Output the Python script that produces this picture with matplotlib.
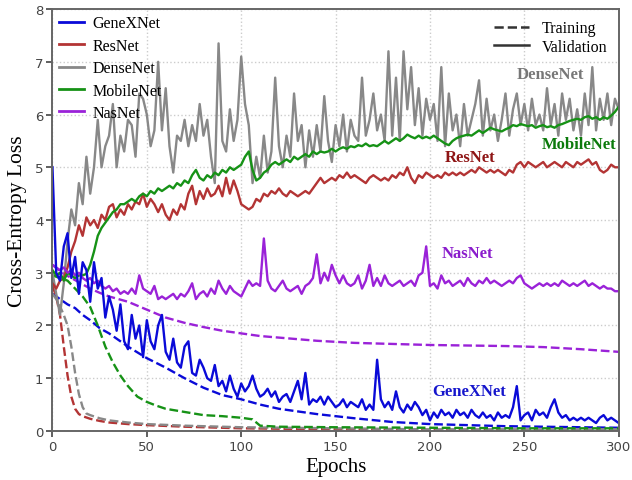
import numpy as np
import matplotlib
matplotlib.use("Agg")
import matplotlib.pyplot as plt
from matplotlib.lines import Line2D

# validation curves, one value every 2 epochs (0..300)
epochs = np.arange(0, 301, 2)

densenet_val = [
    3.0, 2.6, 2.2, 2.8, 3.6, 4.2, 3.9, 4.7, 4.3, 5.2,
    4.5, 5.0, 5.9, 5.0, 5.4, 5.6, 6.2, 5.0, 5.6, 5.3,
    5.9, 5.8, 5.2, 6.4, 6.3, 6.0, 5.4, 5.7, 7.0, 5.7,
    6.5, 5.4, 4.9, 5.6, 5.5, 5.9, 5.4, 5.8, 5.5, 6.2,
    5.6, 5.9, 5.2, 4.7, 7.35, 5.5, 5.3, 6.1, 5.5, 5.9,
    7.1, 6.2, 5.8, 4.7, 5.2, 4.8, 5.6, 4.9, 5.3, 6.7,
    5.4, 5.0, 5.6, 5.2, 6.4, 5.5, 5.8, 5.0, 5.7, 5.2,
    5.8, 5.3, 6.35, 5.5, 5.1, 5.8, 5.4, 6.0, 5.3, 5.9,
    5.6, 5.5, 6.7, 5.6, 5.9, 6.4, 5.7, 6.0, 5.5, 7.2,
    5.6, 6.7, 5.5, 7.2, 6.1, 6.9, 5.8, 6.5, 5.6, 6.3,
    5.9, 6.2, 5.5, 6.9, 5.4, 6.4, 5.7, 6.0, 5.4, 6.2,
    5.6, 5.9, 6.2, 6.65, 5.6, 6.3, 5.7, 6.0, 5.5, 5.9,
    6.4, 5.6, 6.1, 6.4, 5.8, 6.2, 5.7, 6.3, 5.8, 6.0,
    5.7, 6.5, 5.8, 6.2, 5.6, 6.4, 5.9, 6.3, 5.7, 6.1,
    5.6, 6.4, 5.8, 6.9, 5.7, 6.3, 5.9, 6.4, 5.8, 6.3,
    6.1,
]

mobilenet_val = [
    3.05, 2.95, 3.0, 2.85, 3.0, 2.95, 2.9, 2.95, 2.95, 2.98,
    3.15, 3.4, 3.7, 3.85, 3.95, 4.05, 4.15, 4.2, 4.3, 4.3,
    4.35, 4.4, 4.35, 4.45, 4.5, 4.45, 4.55, 4.5, 4.6, 4.55,
    4.6, 4.65, 4.6, 4.7, 4.65, 4.75, 4.7, 4.85, 4.95, 4.8,
    4.75, 4.85, 4.8, 4.9, 4.85, 4.95, 4.9, 5.0, 4.95, 5.0,
    5.05, 5.2, 5.3, 4.95, 4.75, 4.8, 4.9, 4.95, 5.05, 5.1,
    5.05, 5.1, 5.15, 5.1, 5.2, 5.15, 5.2, 5.25, 5.2, 5.3,
    5.25, 5.3, 5.28, 5.3, 5.35, 5.3, 5.35, 5.38, 5.35, 5.4,
    5.38, 5.42, 5.4, 5.45, 5.4, 5.42, 5.4, 5.45, 5.5, 5.45,
    5.5, 5.55, 5.5, 5.55, 5.62, 5.58, 5.55, 5.6, 5.55, 5.58,
    5.55, 5.6, 5.55, 5.5, 5.45, 5.42, 5.5, 5.55, 5.58, 5.6,
    5.62, 5.6, 5.65, 5.7, 5.65, 5.7, 5.75, 5.72, 5.7, 5.68,
    5.72, 5.75, 5.8, 5.78, 5.82, 5.8, 5.78, 5.8, 5.75, 5.78,
    5.8, 5.76, 5.78, 5.75, 5.8, 5.82, 5.85, 5.88, 5.9, 5.92,
    5.9, 5.95, 5.97, 5.92, 5.95, 5.9, 5.95, 5.92, 5.98, 6.05,
    6.15,
]

resnet_val = [
    2.8, 2.7, 2.85, 2.9, 3.1, 3.4, 3.6, 3.9, 3.7, 4.05,
    3.9, 4.0, 3.85, 4.1, 4.0, 4.25, 4.3, 4.05, 4.2, 4.1,
    4.3, 4.2, 4.35, 4.3, 4.5, 4.25, 4.4, 4.3, 4.15, 4.3,
    4.1, 4.0, 4.2, 4.1, 4.3, 4.2, 4.5, 4.65, 4.3, 4.55,
    4.4, 4.6, 4.45, 4.5, 4.65, 4.45, 4.8, 4.5, 4.75, 4.55,
    4.3, 4.25, 4.2, 4.25, 4.4, 4.35, 4.5, 4.45, 4.55, 4.5,
    4.6, 4.5, 4.45, 4.55, 4.5, 4.45, 4.5, 4.55, 4.5, 4.6,
    4.7, 4.8, 4.7, 4.75, 4.8, 4.75, 4.85, 4.8, 4.9, 4.8,
    4.85, 4.8, 4.75, 4.7, 4.8, 4.85, 4.8, 4.75, 4.8, 4.75,
    4.85, 4.8, 4.9, 4.85, 5.0, 4.8, 4.7, 4.85, 4.8, 4.9,
    4.85, 4.8, 4.85, 4.8, 4.9, 4.85, 4.9, 4.85, 4.9, 4.85,
    4.9, 4.95, 4.9, 5.0, 4.95, 4.9, 4.95, 4.9, 4.95, 4.9,
    4.85, 4.95, 4.9, 5.05, 5.1, 5.0, 5.1, 5.05, 5.0, 5.05,
    5.1, 5.0, 5.05, 5.1, 5.05, 5.0, 5.1, 5.05, 5.0, 5.1,
    5.05, 5.1, 5.15, 5.05, 5.1, 4.95, 4.9, 4.95, 5.05, 5.0,
    5.0,
]

nasnet_val = [
    3.15, 3.1, 3.05, 3.1, 3.0, 3.05, 2.95, 3.0, 2.9, 2.85,
    2.9, 2.8, 2.85, 2.75, 2.7, 2.75, 2.65, 2.7, 2.6, 2.65,
    2.6, 2.7, 2.6, 2.95, 2.7, 2.65, 2.6, 2.75, 2.5, 2.55,
    2.5, 2.55, 2.6, 2.5, 2.6, 2.55, 2.65, 2.8, 2.5, 2.6,
    2.65, 2.55, 2.7, 2.6, 2.85, 2.7, 2.6, 2.75, 2.65, 2.6,
    2.55, 2.7, 2.85, 2.75, 2.8, 2.75, 3.65, 2.85, 2.7, 2.65,
    2.75, 2.85, 2.7, 2.65, 2.7, 2.75, 2.6, 2.75, 2.8, 2.9,
    3.35, 2.8, 3.0, 2.85, 3.15, 2.95, 2.8, 2.95, 2.8, 2.75,
    2.8, 2.95, 2.7, 2.85, 3.15, 2.75, 2.9, 2.75, 2.95, 2.8,
    2.75, 2.8, 2.85, 2.75, 2.8, 2.85, 2.75, 2.95, 3.0, 3.5,
    2.75, 2.8, 2.7, 2.95, 2.8, 2.85, 2.75, 2.8, 2.85, 2.75,
    2.9, 2.8, 2.75, 2.85, 2.8, 2.9, 2.8, 2.85, 2.8, 2.75,
    2.8, 2.85, 2.8, 2.9, 2.95, 2.8, 2.75, 2.7, 2.75, 2.8,
    2.75, 2.8, 2.75, 2.8, 2.75, 2.85, 2.8, 2.75, 2.8, 2.75,
    2.8, 2.85, 2.75, 2.8, 2.75, 2.7, 2.75, 2.7, 2.7, 2.65,
    2.65,
]

genexnet_val = [
    5.0, 3.0, 2.85, 3.5, 3.75, 2.9, 3.3, 2.6, 3.2, 3.05,
    2.45, 3.2, 2.7, 2.9, 2.15, 2.55, 2.3, 1.9, 2.4, 1.7,
    1.55, 2.2, 1.75, 2.0, 1.4, 2.1, 1.7, 1.55, 2.0, 2.2,
    1.5, 1.35, 1.75, 1.3, 1.2, 1.6, 1.7, 1.1, 1.05, 1.35,
    1.2, 1.0, 0.95, 1.25, 0.85, 0.95, 0.75, 1.05, 0.8, 0.65,
    0.9, 0.75, 0.85, 1.05, 0.8, 0.65, 0.7, 0.8, 0.65, 0.75,
    0.55, 0.65, 0.7, 0.55, 0.75, 0.95, 0.6, 1.1, 0.5, 0.6,
    0.55, 0.65, 0.5, 0.65, 0.55, 0.45, 0.5, 0.6, 0.45, 0.55,
    0.5, 0.45, 0.6, 0.4, 0.5, 0.4, 1.35, 0.6, 0.45, 0.55,
    0.4, 0.75, 0.45, 0.35, 0.5, 0.4, 0.55, 0.45, 0.3, 0.4,
    0.2, 0.35, 0.25, 0.4, 0.3, 0.35, 0.25, 0.4, 0.3, 0.35,
    0.25, 0.4, 0.3, 0.25, 0.35, 0.25, 0.3, 0.2, 0.35, 0.25,
    0.3, 0.25, 0.45, 0.85, 0.2, 0.3, 0.35, 0.2, 0.4, 0.3,
    0.35, 0.25, 0.45, 0.6, 0.35, 0.25, 0.3, 0.2, 0.25, 0.2,
    0.25, 0.2, 0.25, 0.2, 0.15, 0.25, 0.3, 0.2, 0.25, 0.2,
    0.15,
]

# training curves (smooth), read at a few epochs
nasnet_tr_x = [0, 5, 10, 15, 20, 25, 30, 40, 50, 60, 70, 80, 90, 100, 110, 120,
               140, 160, 180, 200, 220, 240, 260, 280, 300]
nasnet_tr = [3.15, 3.0, 2.9, 2.8, 2.7, 2.62, 2.55, 2.45, 2.3, 2.15, 2.05, 1.97,
             1.9, 1.85, 1.8, 1.77, 1.71, 1.67, 1.65, 1.63, 1.62, 1.61, 1.59, 1.55, 1.5]

genexnet_tr_x = [0, 4, 8, 12, 16, 20, 25, 30, 40, 50, 60, 70, 80, 90, 100, 110,
                 120, 140, 160, 180, 200, 220, 240, 260, 280, 300]
genexnet_tr = [2.6, 2.5, 2.4, 2.33, 2.2, 2.1, 1.95, 1.85, 1.6, 1.38, 1.2, 1.0,
               0.82, 0.68, 0.6, 0.5, 0.42, 0.32, 0.24, 0.17, 0.13, 0.11, 0.09,
               0.08, 0.07, 0.06]

mobilenet_tr_x = [0, 4, 8, 12, 16, 20, 24, 28, 32, 36, 40, 45, 50, 55, 60, 70, 80,
                  90, 100, 106, 110, 120, 150, 200, 250, 300]
mobilenet_tr = [2.95, 2.9, 2.85, 2.7, 2.55, 2.35, 2.0, 1.6, 1.3, 1.05, 0.85, 0.65,
                0.55, 0.48, 0.42, 0.36, 0.3, 0.28, 0.25, 0.22, 0.1, 0.08, 0.07,
                0.06, 0.05, 0.05]

resnet_tr_x = [0, 2, 4, 6, 8, 10, 12, 14, 16, 20, 25, 30, 40, 50, 70, 100, 150, 200, 300]
resnet_tr = [2.75, 2.55, 2.2, 1.6, 1.05, 0.65, 0.42, 0.32, 0.28, 0.23, 0.19, 0.16,
             0.13, 0.11, 0.08, 0.05, 0.03, 0.02, 0.02]

densenet_tr_x = [0, 3, 6, 8, 10, 12, 14, 16, 18, 20, 25, 30, 40, 50, 70, 100, 150, 200, 300]
densenet_tr = [2.6, 2.45, 2.2, 2.0, 1.6, 1.1, 0.7, 0.45, 0.33, 0.3, 0.24, 0.2,
               0.16, 0.13, 0.1, 0.07, 0.05, 0.03, 0.03]

names = ["GeneXNet", "ResNet", "DenseNet", "MobileNet", "NasNet"]
colors = ["#0a0ad8", "#b33434", "#888888", "#169216", "#9a22d8"]
text_colors = ["#1515cc", "#8e1414", "#777777", "#0b7a0b", "#8a1ccc"]

serif = ["Liberation Serif", "DejaVu Serif"]

fig = plt.figure(figsize=(6.32, 4.81), dpi=100)
ax = fig.add_axes([0.083, 0.102, 0.896, 0.877])

lw = 1.7
# training (dashed)
ax.plot(genexnet_tr_x, genexnet_tr, "--", color=colors[0], lw=lw)
ax.plot(resnet_tr_x, resnet_tr, "--", color=colors[1], lw=lw)
ax.plot(densenet_tr_x, densenet_tr, "--", color=colors[2], lw=lw)
ax.plot(mobilenet_tr_x, mobilenet_tr, "--", color=colors[3], lw=lw)
ax.plot(nasnet_tr_x, nasnet_tr, "--", color=colors[4], lw=lw)

# validation (solid)
ax.plot(epochs, densenet_val, color=colors[2], lw=lw)
ax.plot(epochs, resnet_val, color=colors[1], lw=lw)
ax.plot(epochs, mobilenet_val, color=colors[3], lw=lw)
ax.plot(epochs, nasnet_val, color=colors[4], lw=lw)
ax.plot(epochs, genexnet_val, color=colors[0], lw=lw)

ax.set_xlim(0, 300)
ax.set_ylim(0, 8)
ax.set_xticks(range(0, 301, 50))
ax.set_yticks(range(0, 9))
ax.grid(True, linestyle=":", color="#cccccc", lw=1.0)
ax.set_axisbelow(True)
for sp in ax.spines.values():
    sp.set_color("#666666")
    sp.set_linewidth(1.4)
ax.tick_params(colors="#444444", labelsize=9.5, length=4, width=1.2,
               direction="out", pad=2.5)

ax.set_xlabel("Epochs", family=serif, fontsize=15, labelpad=3)
ax.set_ylabel("Cross-Entropy Loss", family=serif, fontsize=15.5, labelpad=6)

# model legend
handles = [Line2D([], [], color=c, lw=2) for c in colors]
leg1 = ax.legend(handles, names, loc="upper left", frameon=False,
                 prop={"family": serif, "size": 11.5}, handlelength=1.6,
                 handletextpad=0.5, labelspacing=0.4, borderaxespad=0.0)
ax.add_artist(leg1)

# line style legend
style_handles = [Line2D([], [], color="#333333", lw=1.8, ls="--"),
                 Line2D([], [], color="#333333", lw=1.8)]
ax.legend(style_handles, ["Training", "Validation"], loc="upper right",
          frameon=False, prop={"family": serif, "size": 11.5},
          handlelength=2.2, handletextpad=0.8, labelspacing=0.15,
          borderaxespad=0.3)

# series labels
label_pos = [(221, 0.76), (221, 5.2), (264, 6.77), (279, 5.44), (220, 3.37)]
for name, (lx, ly), tc in zip(names, label_pos, text_colors):
    ax.text(lx, ly, name, color=tc, family=serif, fontsize=12,
            fontweight="bold", ha="center", va="center")

fig.savefig("out.png", dpi=100)
